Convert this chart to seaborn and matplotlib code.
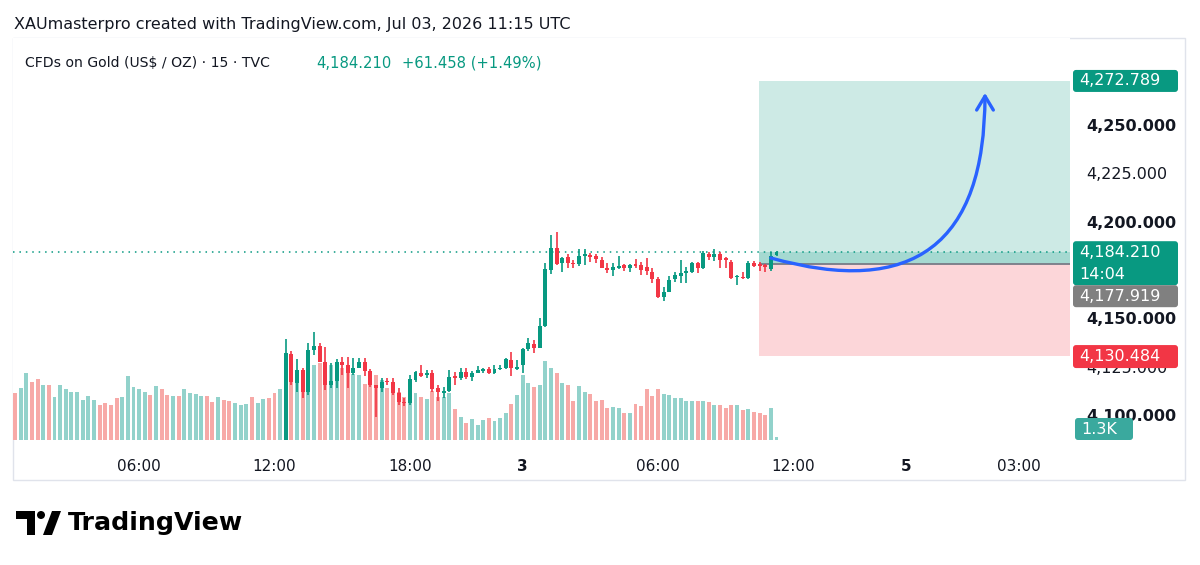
import numpy as np
import pandas as pd
import matplotlib
matplotlib.use('Agg')
import matplotlib.pyplot as plt
from matplotlib.patches import FancyBboxPatch, FancyArrowPatch, Rectangle, Circle, Polygon
from matplotlib.path import Path
from matplotlib.transforms import IdentityTransform
import seaborn as sns

# ---- data (15 min bars, XAUUSD) ----
# volume (K) for every bar on screen, oldest first
volume = [23.4, 26.0, 33.7, 29.2, 30.7, 27.7, 27.4, 21.4, 27.4, 25.5,
          24.2, 24.2, 20.2, 22.0, 19.9, 17.7, 18.5, 17.5, 20.9, 21.5,
          32.0, 26.4, 25.5, 24.2, 22.5, 27.2, 25.5, 22.4, 22.2, 22.0,
          25.5, 23.5, 22.9, 22.2, 22.0, 19.2, 21.7, 20.2, 19.7, 18.4,
          17.7, 18.0, 21.5, 18.7, 20.4, 21.2, 23.4, 25.4,
          41.0, 34.0, 32.0, 28.0, 35.0, 37.5, 38.7, 37.5, 37.5, 38.4,
          35.9, 35.0, 33.0, 32.5, 28.0, 29.7, 32.5, 30.0, 25.9, 26.7,
          24.2, 21.7, 24.2, 23.7, 21.4, 20.5, 24.7, 21.7, 21.7, 23.4,
          15.4, 11.4, 8.7, 10.4, 7.5, 10.0, 11.2, 9.7, 10.9, 13.7,
          18.0, 22.4, 32.5, 28.4, 26.4, 27.5, 39.7, 36.2, 33.7, 28.4,
          27.5, 19.7, 26.9, 24.0, 22.9, 19.5, 20.0, 15.9, 16.5, 15.9,
          13.4, 13.4, 18.0, 17.0, 25.4, 22.2, 25.5, 23.0, 22.5, 21.2,
          21.2, 19.4, 19.4, 19.4, 19.5, 19.0, 17.5, 17.5, 16.2, 17.5,
          17.5, 15.0, 15.4, 14.2, 13.4, 12.5, 16.2, 1.3]

# direction of the early bars whose candles sit below the visible price range
early_dir = "RGGRRGRGGGGGGGGRRRRGGGGGRGRRGRGGGGRRGRRGGGRGGRRG"

# OHLC of the visible candles (last bars of the series)
opens = [4081.9, 4131.6, 4116.4, 4123.3, 4112.0, 4133.6, 4135.8, 4127.6, 4115.5, 4117.6,
         4127.6, 4125.9, 4121.6, 4124.5, 4127.6, 4122.8, 4115.5, 4113.8, 4117.6, 4117.2,
         4111.5, 4106.9, 4106.0, 4118.1, 4121.9, 4120.7, 4121.9, 4113.8, 4111.3, 4112.6,
         4120.3, 4119.0, 4122.4, 4119.8, 4121.9, 4122.9, 4123.6, 4121.9, 4123.8, 4124.2,
         4128.4, 4123.8, 4125.7, 4134.0, 4136.6, 4134.8, 4146.0, 4175.0, 4186.2, 4178.5,
         4181.6, 4178.8, 4178.0, 4182.2, 4182.8, 4182.2, 4180.2, 4176.2, 4175.0, 4176.2,
         4177.6, 4176.2, 4178.0, 4177.6, 4176.7, 4174.1, 4170.2, 4161.2, 4163.8, 4170.3,
         4172.0, 4173.3, 4174.1, 4178.5, 4175.9, 4183.1, 4181.9, 4183.1, 4181.1, 4179.3,
         4171.5, 4171.5, 4170.7, 4178.5, 4178.0, 4177.6, 4175.5, 4182.9]
highs = [4139.3, 4133.1, 4128.8, 4124.2, 4137.4, 4143.1, 4137.4, 4135.3, 4126.7, 4128.8,
         4130.1, 4130.1, 4129.3, 4129.3, 4129.3, 4123.6, 4115.5, 4119.0, 4119.0, 4119.0,
         4113.8, 4108.6, 4120.7, 4122.9, 4125.9, 4123.3, 4123.3, 4115.5, 4114.6, 4123.3,
         4122.4, 4124.5, 4124.5, 4122.9, 4125.5, 4124.5, 4125.0, 4125.9, 4125.9, 4129.6,
         4132.7, 4128.4, 4134.8, 4139.7, 4138.8, 4150.0, 4178.5, 4193.1, 4194.8, 4181.9,
         4183.1, 4180.2, 4185.9, 4185.7, 4183.7, 4183.4, 4181.9, 4178.5, 4178.5, 4182.2,
         4178.1, 4178.1, 4180.5, 4179.0, 4181.0, 4175.9, 4171.5, 4166.1, 4171.9, 4174.1,
         4180.2, 4176.7, 4179.3, 4179.0, 4184.8, 4184.5, 4185.9, 4184.2, 4181.9, 4180.2,
         4172.4, 4174.1, 4179.7, 4179.7, 4179.3, 4178.0, 4184.2, 4185.0]
lows = [4078.0, 4115.5, 4112.0, 4108.6, 4110.3, 4131.0, 4127.6, 4112.9, 4113.8, 4113.8,
        4120.7, 4113.8, 4120.7, 4124.2, 4120.2, 4114.6, 4099.1, 4112.0, 4115.5, 4110.3,
        4105.2, 4104.7, 4105.2, 4117.2, 4119.8, 4119.0, 4112.0, 4107.2, 4108.9, 4112.0,
        4115.5, 4118.1, 4118.6, 4117.6, 4121.6, 4121.6, 4121.2, 4121.4, 4123.3, 4123.6,
        4120.3, 4123.3, 4121.6, 4133.1, 4131.9, 4134.5, 4145.7, 4172.8, 4177.6, 4174.1,
        4175.9, 4175.9, 4177.2, 4177.6, 4179.3, 4178.6, 4175.9, 4173.6, 4172.1, 4175.4,
        4174.7, 4173.8, 4175.9, 4172.4, 4172.4, 4168.2, 4160.7, 4159.1, 4163.8, 4169.0,
        4168.1, 4168.1, 4173.3, 4173.6, 4175.5, 4180.2, 4179.7, 4175.9, 4175.9, 4170.3,
        4167.2, 4170.3, 4170.3, 4176.7, 4174.5, 4173.8, 4174.5, 4182.4]
closes = [4131.9, 4116.9, 4123.3, 4112.0, 4133.6, 4135.8, 4127.6, 4115.5, 4117.6, 4127.6,
          4125.9, 4121.6, 4124.5, 4127.6, 4122.8, 4115.5, 4113.8, 4117.2, 4117.0, 4111.2,
          4106.9, 4106.0, 4118.5, 4122.4, 4120.3, 4121.6, 4113.4, 4112.0, 4112.2, 4119.8,
          4119.0, 4122.4, 4119.8, 4121.6, 4123.3, 4123.6, 4121.9, 4123.8, 4124.5, 4128.8,
          4124.2, 4125.0, 4134.0, 4137.0, 4134.8, 4146.0, 4175.4, 4186.2, 4178.1, 4181.4,
          4178.5, 4178.0, 4182.2, 4183.1, 4181.6, 4180.5, 4176.2, 4175.0, 4176.7, 4177.2,
          4176.2, 4177.6, 4177.2, 4175.0, 4174.5, 4170.2, 4161.2, 4163.8, 4169.8, 4172.4,
          4173.3, 4174.5, 4178.5, 4175.9, 4183.6, 4181.9, 4183.1, 4180.2, 4180.2, 4170.7,
          4172.0, 4170.7, 4178.8, 4177.2, 4177.2, 4176.7, 4182.4, 4184.21]

# 4,175 sits fully under the price labels, so it is left out
price_ticks = [4100, 4125, 4150, 4200, 4225, 4250]
time_tick_bars = [22, 46, 70, 90, 114, 138, 158, 178]
time_tick_labels = ['06:00', '12:00', '18:00', '3', '06:00', '12:00', '5', '03:00']

last_price = 4184.21
entry_price = 4177.919
target_price = 4272.789
stop_price = 4130.484
position_start_bar = 131.9

# ---- style ----
GREEN = '#089981'
RED = '#f23645'
VOL_UP = '#92d2cb'
VOL_DN = '#f7a9a7'
TEXT = '#131722'
BLUE = '#2962ff'

sns.set_theme(style='white')
plt.rcParams['font.family'] = ['DejaVu Sans']

W, H = 1200, 565
fig = plt.figure(figsize=(W / 100, H / 100), dpi=100)
fig.patch.set_facecolor('white')

rect = [13 / W, 1 - 440 / H, 1057 / W, 402 / H]
axv = fig.add_axes(rect, zorder=0)
ax = fig.add_axes(rect, zorder=1)
ax.patch.set_alpha(0)

n_bars = len(volume)
candle_x = np.arange(n_bars - len(opens), n_bars)
o, h, l, c = (np.array(a) for a in (opens, highs, lows, closes))
up = c >= o
vol_dir = ['up' if d == 'G' else 'down' for d in early_dir] + ['up' if u else 'down' for u in up]

# volume pane
vol_df = pd.DataFrame({'bar': np.arange(n_bars), 'vol': volume, 'dir': vol_dir})
sns.barplot(data=vol_df, x='bar', y='vol', hue='dir', palette={'up': VOL_UP, 'down': VOL_DN},
            native_scale=True, dodge=False, width=0.7, saturation=1, errorbar=None,
            legend=False, linewidth=0, ax=axv)
axv.set_ylim(0, 201)

xlim = (-0.36, 187.03)
for a in (ax, axv):
    a.set_xlim(*xlim)
    for s in a.spines.values():
        s.set_visible(False)
axv.set_xticks([])
axv.set_yticks([])
axv.set_xlabel('')
axv.set_ylabel('')
axv.patch.set_facecolor('white')

ax.set_ylim(4087.07, 4295.0)

# long position tool
x_end = xlim[1]
pw = x_end - position_start_bar
ax.add_patch(Rectangle((position_start_bar, entry_price), pw, target_price - entry_price,
                       facecolor=GREEN, alpha=0.2, lw=0, zorder=1))
ax.add_patch(Rectangle((position_start_bar, entry_price), pw, last_price - entry_price,
                       facecolor=GREEN, alpha=0.2, lw=0, zorder=1))
ax.add_patch(Rectangle((position_start_bar, stop_price), pw, entry_price - stop_price,
                       facecolor=RED, alpha=0.2, lw=0, zorder=1))
ax.hlines(entry_price, position_start_bar, x_end, color='#787b86', lw=1.3, zorder=2)

# last price line
ax.axhline(last_price, color=GREEN, lw=1.1, linestyle=(0, (1, 3.2)), zorder=2)

# candles
cols = np.where(up, GREEN, RED)
ax.vlines(candle_x, l, h, colors=cols, lw=1.2, zorder=3)
body_lo = np.minimum(o, c)
body_h = np.maximum(np.abs(c - o), 0.6)
ax.bar(candle_x, body_h, bottom=body_lo, width=0.7, color=cols, lw=0, zorder=4)

# curved arrow
arrow_path = Path([(134.0, 4181.2), (171.96, 4150.2), (171.96, 4266.6)],
                  [Path.MOVETO, Path.CURVE3, Path.CURVE3])
ax.add_patch(FancyArrowPatch(path=arrow_path, arrowstyle='->,head_length=10,head_width=6',
                             color=BLUE, lw=2.4, zorder=6, capstyle='round', joinstyle='round'))

# axes ticks
ax.yaxis.tick_right()
ax.set_yticks(price_ticks)
ax.set_yticklabels([f'{v:,.3f}' for v in price_ticks])
for v, t in zip(price_ticks, ax.get_yticklabels()):
    t.set_fontweight('bold' if v % 50 == 0 else 'normal')
    t.set_fontsize(11.5)
    t.set_color(TEXT)
ax.tick_params(axis='y', length=0, pad=12)
ax.set_xticks(time_tick_bars)
ax.set_xticklabels(time_tick_labels)
for lab, t in zip(time_tick_labels, ax.get_xticklabels()):
    t.set_fontweight('bold' if ':' not in lab else 'normal')
    t.set_fontsize(11)
    t.set_color(TEXT)
ax.tick_params(axis='x', length=0, pad=14)
ax.grid(False)

# ---- figure-level decorations (pixel coords, y from top) ----
ID = IdentityTransform()


def py(y):
    return H - y


def price_px(p):
    return ax.transData.transform((0, p))[1]


fig.add_artist(Rectangle((13, py(480)), 1172, 442, transform=ID, fill=False,
                         edgecolor='#e0e3eb', lw=1, zorder=0))


def label_box(x0, y_top_disp, w, hgt, color, lines, fs=11.5):
    fig.add_artist(FancyBboxPatch((x0, y_top_disp - hgt), w, hgt, transform=ID,
                                  boxstyle='round,pad=0,rounding_size=3',
                                  facecolor=color, edgecolor='none', zorder=5))
    step = hgt / len(lines)
    for i, s in enumerate(lines):
        fig.text(x0 + 6, y_top_disp - step * (i + 0.5), s, transform=ID, color='white',
                 fontsize=fs, va='center', ha='left', zorder=6)


yt = price_px(target_price)
label_box(1073, yt + 11, 105, 22, GREEN, [f'{target_price:,.3f}'])
yl = price_px(last_price)
label_box(1073, yl + 11, 105, 44, GREEN, [f'{last_price:,.3f}', '14:04'])
label_box(1073, yl - 33, 105, 22, '#808080', [f'{entry_price:,.3f}'])
ys = price_px(stop_price)
label_box(1073, ys + 11, 105, 23, RED, [f'{stop_price:,.3f}'])
label_box(1075, py(418), 58, 22, '#3aa99e', [f'{volume[-1]:.1f}K'])

# header
fig.text(14, py(24), 'XAUmasterpro created with TradingView.com, Jul 03, 2026 11:15 UTC',
         transform=ID, fontsize=11.5, color=TEXT, va='center')
fig.text(25, py(63), 'CFDs on Gold (US$ / OZ) · 15 · TVC', transform=ID, fontsize=10.1,
         color=TEXT, va='center')
fig.text(316, py(63), f'{last_price:,.3f}', transform=ID, fontsize=10.6, color=GREEN, va='center')
fig.text(402, py(63), '+61.458 (+1.49%)', transform=ID, fontsize=10.6, color=GREEN, va='center')

# TradingView logo
fig.add_artist(Polygon([(16, py(511)), (35, py(511)), (35, py(535)), (27, py(535)),
                        (27, py(519)), (16, py(519))], closed=True, transform=ID,
                       facecolor='black', edgecolor='none'))
fig.add_artist(Circle((41, py(515)), 4, transform=ID, facecolor='black', edgecolor='none'))
fig.add_artist(Polygon([(43, py(535)), (52, py(511)), (61, py(511)), (52, py(535))], closed=True,
                       transform=ID, facecolor='black', edgecolor='none'))
fig.text(68, py(523), 'TradingView', transform=ID, fontsize=18.2, fontweight='bold',
         color='black', va='center')

fig.savefig('out.png', dpi=100, facecolor='white')
